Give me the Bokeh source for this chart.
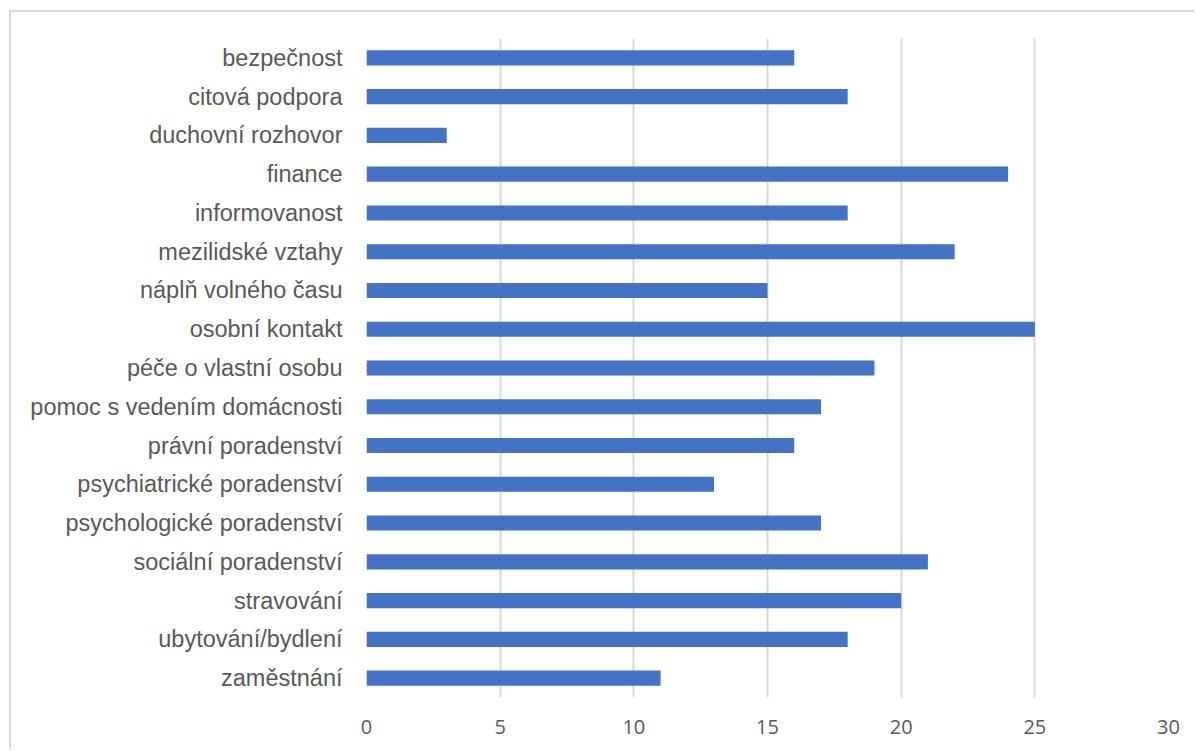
from bokeh.plotting import figure
from bokeh.models import FactorRange, Range1d, ColumnDataSource, FixedTicker
from bokeh.embed import file_html
from bokeh.resources import INLINE

categories = ["bezpečnost", "citová podpora", "duchovní rozhovor", "finance", "informovanost",
              "mezilidské vztahy", "náplň volného času", "osobní kontakt", "péče o vlastní osobu",
              "pomoc s vedením domácnosti", "právní poradenství", "psychiatrické poradenství",
              "psychologické poradenství", "sociální poradenství", "stravování",
              "ubytování/bydlení", "zaměstnání"]
values = [16, 18, 3, 24, 18, 22, 15, 25, 19, 17, 16, 13, 17, 21, 20, 18, 11]
x_ticks = [0, 5, 10, 15, 20, 25, 30]

TXT = "#595959"

# canvas begins at (11, 12) after border + margin
p = figure(width=1185, height=739, output_backend="svg", toolbar_location=None,
           y_range=FactorRange(factors=list(reversed(categories))),
           x_range=Range1d(0, 30),
           min_border_left=355, min_border_right=28, min_border_top=26, min_border_bottom=54)
p.styles = {"margin-left": "9px", "margin-top": "10px",
            "border-left": "2px solid #d9d9d9", "border-top": "2px solid #d9d9d9"}
p.background_fill_color = "white"
p.border_fill_color = "white"
p.outline_line_color = None

src = ColumnDataSource(dict(cat=categories, val=values))
p.hbar(y="cat", right="val", left=0, height=0.39, source=src, fill_color="#4472C4", line_color=None)

p.xaxis.ticker = FixedTicker(ticks=x_ticks)
p.xaxis.axis_line_color = None
p.xaxis.major_tick_line_color = None
p.xaxis.minor_tick_line_color = None
p.xaxis.major_label_text_font = "Open Sans"
p.xaxis.major_label_text_font_size = "20px"
p.xaxis.major_label_text_color = TXT
p.xaxis.major_label_standoff = 16

p.yaxis.axis_line_color = None
p.yaxis.major_tick_line_color = None
p.yaxis.major_label_text_font = "Liberation Sans"
p.yaxis.major_label_text_font_size = "23.5px"
p.yaxis.major_label_text_color = TXT
p.yaxis.major_label_standoff = 18

p.ygrid.grid_line_color = None
p.xgrid.grid_line_color = "#d9d9d9"
p.xgrid.grid_line_width = 2

open("out.html", "w").write(file_html(p, INLINE))
